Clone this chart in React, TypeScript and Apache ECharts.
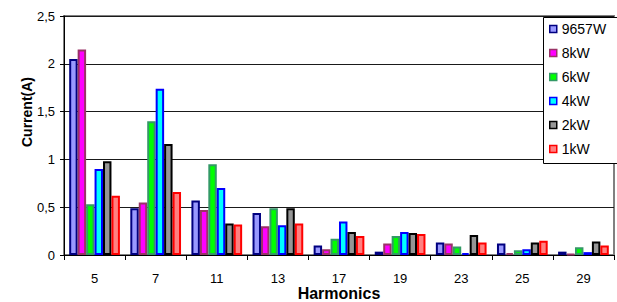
import React, { useEffect, useRef } from "react";
import * as echarts from "echarts";

const categories = ["5", "7", "11", "13", "17", "19", "23", "25", "29"];
const yTicks = [0, 0.5, 1, 1.5, 2, 2.5];

const s9657W = [2.05, 0.49, 0.57, 0.44, 0.1, 0.035, 0.13, 0.12, 0.035];
const s8kW = [2.15, 0.55, 0.47, 0.3, 0.06, 0.12, 0.12, 0.02, 0.01];
const s6kW = [0.53, 1.4, 0.95, 0.49, 0.17, 0.2, 0.09, 0.05, 0.08];
const s4kW = [0.9, 1.74, 0.7, 0.31, 0.35, 0.24, 0.02, 0.06, 0.03];
const s2kW = [0.98, 1.16, 0.33, 0.49, 0.24, 0.23, 0.21, 0.13, 0.14];
const s1kW = [0.62, 0.66, 0.32, 0.33, 0.2, 0.22, 0.13, 0.15, 0.1];

const seriesNames = ["9657W", "8kW", "6kW", "4kW", "2kW", "1kW"];
const seriesData = [s9657W, s8kW, s6kW, s4kW, s2kW, s1kW];
const fills = ["#9999FF", "#FF00FF", "#00FF00", "#00FFFF", "#969696", "#FF8080"];
const borders = ["#000080", "#993366", "#339966", "#0000FF", "#000000", "#FF0000"];

const FONT = "'Liberation Sans', Arial, sans-serif";

export default function App() {
  const ref = useRef<HTMLDivElement>(null);
  useEffect(() => {
    if (!ref.current) return;
    const chart = echarts.init(ref.current, undefined, { renderer: "svg" });
    chart.setOption({
      animation: false,
      backgroundColor: "#ffffff",
      textStyle: { fontFamily: FONT },
      grid: {
        left: 64,
        right: 3,
        top: 16,
        bottom: 47,
        show: true,
        borderColor: "#808080",
        borderWidth: 2,
        outerBoundsMode: "none",
        containLabel: false,
      },
      xAxis: {
        type: "category",
        data: categories,
        name: "Harmonics",
        nameLocation: "middle",
        nameGap: 30,
        nameMoveOverlap: false,
        nameTextStyle: { fontFamily: FONT, fontSize: 16, fontWeight: "bold", color: "#000" },
        axisLine: { lineStyle: { color: "#000", width: 1 } },
        axisTick: { show: true, length: 5, lineStyle: { color: "#000" } },
        axisLabel: { fontFamily: FONT, fontSize: 13, color: "#000", margin: 17 },
      },
      yAxis: {
        type: "value",
        min: yTicks[0],
        max: yTicks[yTicks.length - 1],
        interval: 0.5,
        axisLine: { show: true, lineStyle: { color: "#000", width: 1 } },
        axisTick: { show: true, length: 4, lineStyle: { color: "#000" } },
        axisLabel: {
          fontFamily: FONT,
          fontSize: 13,
          color: "#000",
          margin: 9,
          formatter: (v: number) => String(v).replace(".", ","),
        },
        splitLine: { show: true, lineStyle: { color: "#1a1a1a", width: 1 } },
      },
      legend: {
        orient: "vertical",
        left: 544,
        top: 17,
        itemWidth: 7,
        itemHeight: 7,
        itemGap: 10,
        icon: "rect",
        z: 6,
        textStyle: { fontFamily: FONT, fontSize: 14, color: "#000", padding: [0, 0, 0, 0] },
        itemStyle: { borderWidth: 1.5 },
        data: seriesNames,
      },
      graphic: [
        {
          type: "rect",
          z: 5,
          shape: { x: 543.5, y: 17.5, width: 80, height: 146 },
          style: { fill: "#ffffff", stroke: "#000000", lineWidth: 1 },
        },
        {
          type: "text",
          x: 27,
          y: 112,
          rotation: Math.PI / 2,
          style: {
            text: "Current(A)",
            fontFamily: FONT,
            fontSize: 14,
            fontWeight: "bold",
            fill: "#000",
            align: "center",
            verticalAlign: "middle",
          },
        },
      ],
      series: seriesNames.map((name, i) => ({
        name,
        type: "bar",
        data: seriesData[i],
        barGap: "0%",
        barCategoryGap: "17%",
        itemStyle: { color: fills[i], borderColor: borders[i], borderWidth: 2 },
      })),
    });
    return () => chart.dispose();
  }, []);
  return (
    <div
      ref={ref}
      style={{ position: "fixed", left: 0, top: 0, width: 617, height: 302 }}
    />
  );
}
